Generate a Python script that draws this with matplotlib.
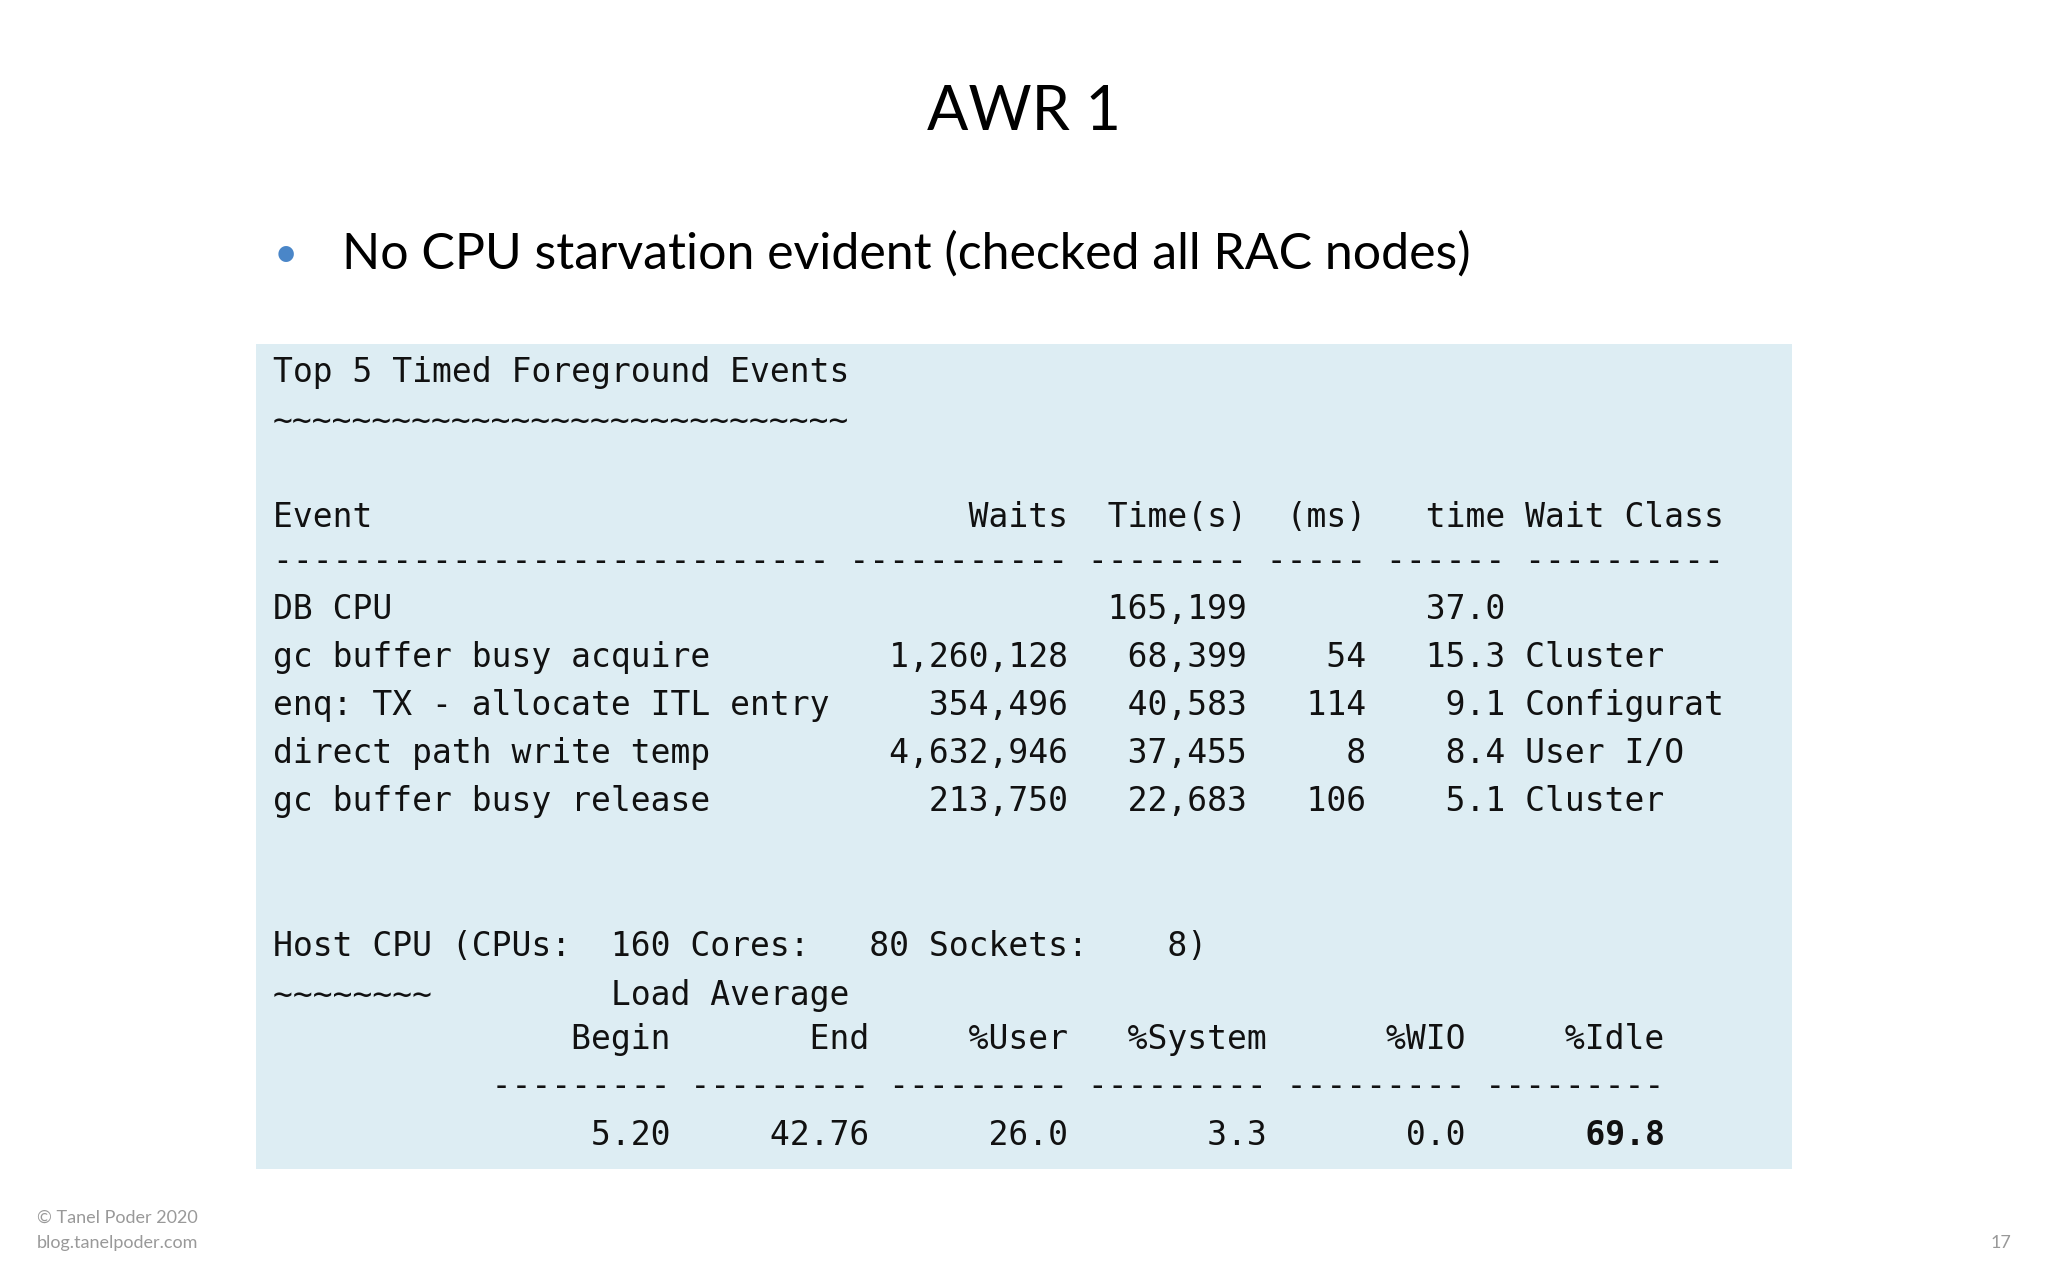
import matplotlib.pyplot as plt
from matplotlib.patches import Rectangle

title = "AWR 1"
bullet = "No CPU starvation evident (checked all RAC nodes)"

events = ["DB CPU", "gc buffer busy acquire", "enq: TX - allocate ITL entry",
          "direct path write temp", "gc buffer busy release"]
waits = ["", "1,260,128", "354,496", "4,632,946", "213,750"]
times = ["165,199", "68,399", "40,583", "37,455", "22,683"]
avg_ms = ["", "54", "114", "8", "106"]
pct_time = ["37.0", "15.3", "9.1", "8.4", "5.1"]
wait_class = ["", "Cluster", "Configurat", "User I/O", "Cluster"]

host_cpus, host_cores, host_sockets = 160, 80, 8
cpu_cols = ["Begin", "End", "%User", "%System", "%WIO", "%Idle"]
cpu_vals = ["5.20", "42.76", "26.0", "3.3", "0.0", "69.8"]

W, H = 1568, 980  # reference layout units
def fx(x): return x / W
def fy(y): return 1 - y / H

fig = plt.figure(figsize=(20.48, 12.8), dpi=100)
fig.patch.set_facecolor("white")
sans = ["Lato", "DejaVu Sans"]

fig.text(0.5, fy(86), title, ha="center", va="center", fontsize=44, family=sans)
fig.text(fx(219), fy(195), "•", ha="center", va="center", fontsize=30, color="#4a86c8", family=sans)
fig.text(fx(262), fy(195), bullet, ha="left", va="center", fontsize=36, family=sans)

fig.patches.append(Rectangle((fx(196), fy(895)), fx(1372) - fx(196), (895 - 263) / H,
                             transform=fig.transFigure, facecolor="#ddedf3", edgecolor="none"))

lines = [
    (285, "Top 5 Timed Foreground Events"),
    (323, "~" * 29),
    (396, f"{'Event':<28} {'Waits':>11} {'Time(s)':>8} {'(ms)':>5} {'time':>6} Wait Class"),
    (430, " ".join(["-" * 28, "-" * 11, "-" * 8, "-" * 5, "-" * 6, "-" * 10])),
]
for i, ev in enumerate(events):
    lines.append((467 + i * 36.7,
                  f"{ev:<28} {waits[i]:>11} {times[i]:>8} {avg_ms[i]:>5} {pct_time[i]:>6} {wait_class[i]}"))
lines += [
    (725, f"Host CPU (CPUs: {host_cpus:>4} Cores: {host_cores:>4} Sockets: {host_sockets:>4})"),
    (762, "~" * 8 + " " * 9 + "Load Average"),
    (796, " " * 11 + " ".join(f"{c:>9}" for c in cpu_cols)),
    (832, " " * 11 + " ".join(["-" * 9] * 6)),
    (869, " " * 11 + " ".join(f"{v:>9}" for v in cpu_vals[:-1])),
]
mono = dict(family="DejaVu Sans Mono", fontsize=23.8, va="center", ha="left", color="#111111")
for y, s in lines:
    fig.text(fx(209), fy(y), s, **mono)
# last value in bold
charw = 15.23
col = 11 + 5 * 10
fig.text(fx(209 + col * charw), fy(869), f"{cpu_vals[-1]:>9}", fontweight="bold", **mono)

fig.text(fx(28), fy(932), "© Tanel Poder 2020", fontsize=13, color="#999999", va="center", family=sans)
fig.text(fx(28), fy(952), "blog.tanelpoder.com", fontsize=13, color="#999999", va="center", family=sans)
fig.text(fx(1540), fy(952), "17", fontsize=13, color="#999999", va="center", ha="right", family=sans)

fig.savefig("out.png", dpi=100, facecolor="white")
